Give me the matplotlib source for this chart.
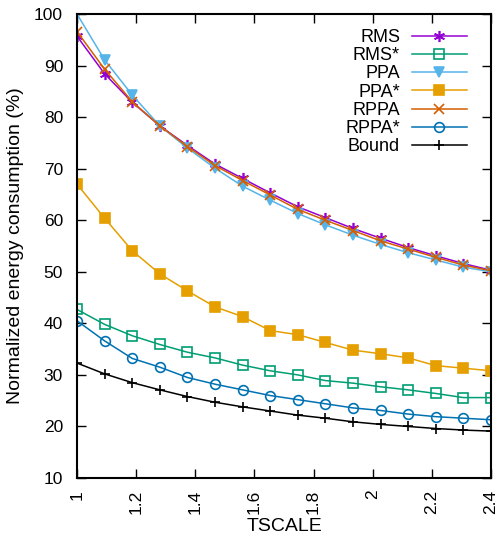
import numpy as np
import matplotlib
matplotlib.use("Agg")
import matplotlib.pyplot as plt

plt.rcParams['font.family'] = ['Liberation Sans', 'DejaVu Sans']

tscale = [1 + k * 1.4 / 15 for k in range(16)]

rms = [95.7, 88.4, 82.9, 78.3, 74.5, 70.9, 68.1, 65.3, 62.6, 60.5, 58.4, 56.5, 54.7, 53.1, 51.6, 50.3]
rms_star = [42.7, 39.8, 37.6, 35.9, 34.4, 33.3, 31.9, 30.8, 30.0, 28.9, 28.4, 27.7, 27.1, 26.4, 25.6, 25.6]
ppa = [100.0, 91.1, 84.3, 78.3, 74.0, 70.1, 66.6, 63.9, 61.3, 59.1, 57.1, 55.3, 53.7, 52.3, 50.9, 50.0]
ppa_star = [67.0, 60.4, 54.1, 49.6, 46.3, 43.2, 41.3, 38.6, 37.8, 36.3, 34.8, 34.1, 33.3, 31.8, 31.3, 30.8]
rppa = [96.6, 89.3, 83.0, 78.3, 74.3, 70.6, 67.7, 64.9, 62.1, 60.0, 58.0, 56.0, 54.4, 52.8, 51.3, 50.2]
rppa_star = [40.5, 36.6, 33.2, 31.5, 29.5, 28.2, 27.1, 26.0, 25.2, 24.4, 23.6, 23.1, 22.4, 21.9, 21.6, 21.3]
bound = [32.3, 30.2, 28.5, 27.1, 25.8, 24.7, 23.8, 23.0, 22.2, 21.6, 20.9, 20.4, 20.0, 19.6, 19.3, 19.1]

labels = ["RMS", "RMS*", "PPA", "PPA*", "RPPA", "RPPA*", "Bound"]
series = [rms, rms_star, ppa, ppa_star, rppa, rppa_star, bound]
colors = ["#9400D3", "#009E73", "#56B4E9", "#E69F00", "#D55E00", "#0072B2", "#000000"]
markers = [(6, 2, 0), "s", "v", "s", "x", "o", "+"]
fills = ["full", "none", "full", "full", "full", "none", "full"]
msizes = [8, 7, 7, 7.5, 7.5, 7, 7.5]

fig = plt.figure(figsize=(4.99, 5.45), dpi=100)
ax = fig.add_axes([0.1543, 0.1229, 0.8297, 0.8514])

for y, lab, c, m, f, ms in zip(series, labels, colors, markers, fills, msizes):
    ax.plot(tscale, y, color=c, marker=m, fillstyle=f, markersize=ms,
            linewidth=1.1, markeredgewidth=1.2, label=lab)

ax.set_xlim(1, 2.4)
ax.set_ylim(10, 100)
ax.set_xticks([1, 1.2, 1.4, 1.6, 1.8, 2, 2.2, 2.4])
ax.set_xticklabels(["1", "1.2", "1.4", "1.6", "1.8", "2", "2.2", "2.4"], rotation=90)
ax.set_yticks(range(10, 101, 10))
ax.tick_params(direction='in', length=6.5, width=1, top=True, right=True, labelsize=12.5)
ax.tick_params(axis='y', pad=10)
ax.tick_params(axis='x', pad=8.5)
for s in ax.spines.values():
    s.set_linewidth(1.5)

ax.set_xlabel("TSCALE", fontsize=14, labelpad=3)
ax.set_ylabel("Normalized energy consumption (%)", fontsize=14, labelpad=7)

leg = ax.legend(loc='upper right', frameon=False, markerfirst=False, fontsize=13,
                handlelength=3.05, labelspacing=0.07, borderaxespad=0, borderpad=0,
                handletextpad=0.66, bbox_to_anchor=(0.942, 0.968))

fig.savefig("out.png", dpi=100)
